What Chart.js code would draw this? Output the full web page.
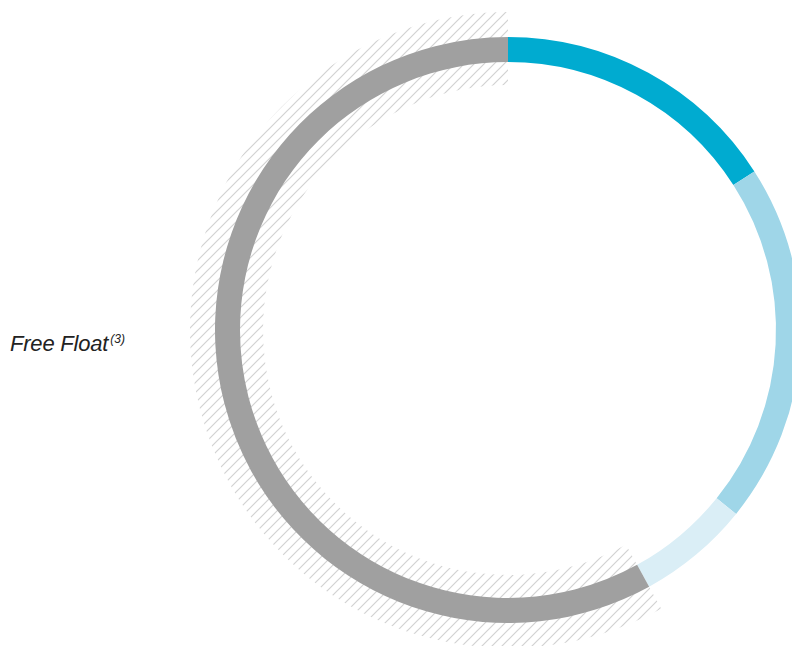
<!DOCTYPE html>
<html>
<head>
<meta charset="utf-8">
<script src="https://cdn.jsdelivr.net/npm/chart.js@4.4.1/dist/chart.umd.min.js"></script>
<style>
  html, body { margin: 0; padding: 0; width: 792px; height: 646px; overflow: hidden; background: #fff; }
  .ring { position: absolute; left: 178px; top: 0; width: 660px; height: 660px; }
  #label {
    position: absolute; left: 10px; top: 327px;
    font-family: 'Liberation Sans', Arial, sans-serif; font-style: italic;
    font-size: 22px; line-height: 25px; color: #222; white-space: nowrap;
    letter-spacing: -0.2px;
  }
  #label span { font-size: 12px; vertical-align: 8px; margin-left: 2px; letter-spacing: 0; }
</style>
</head>
<body>
<div class="ring"><canvas id="hatchChart"></canvas></div>
<div class="ring"><canvas id="mainChart"></canvas></div>
<div id="label">Free Float<span>(3)</span></div>
<script>
const labels = ['Segment 1', 'Segment 2', 'Segment 3', 'Free Float'];
const shares = [15.9, 19.9, 6.2, 58.0];
const colours = ['#00abd0', '#9fd6e8', '#daeef6', '#a0a0a0'];

function makeHatch() {
  const c = document.createElement('canvas');
  c.width = 10; c.height = 10;
  const g = c.getContext('2d');
  g.strokeStyle = '#d2d2d2';
  g.lineWidth = 1.2;
  g.beginPath();
  g.moveTo(-1, 11); g.lineTo(11, -1);
  g.moveTo(-1, 1); g.lineTo(1, -1);
  g.moveTo(9, 11); g.lineTo(11, 9);
  g.stroke();
  return g.createPattern(c, 'repeat');
}

document.addEventListener('DOMContentLoaded', function () {
  const hatch = makeHatch();

  // hatched band behind the free float arc (outer 318px, inner 245px)
  new Chart(document.getElementById('hatchChart').getContext('2d'), {
    type: 'doughnut',
    data: {
      labels: labels,
      datasets: [{
        data: shares,
        backgroundColor: ['rgba(0,0,0,0)', 'rgba(0,0,0,0)', 'rgba(0,0,0,0)', hatch],
        borderWidth: 0
      }]
    },
    options: {
      responsive: true,
      maintainAspectRatio: false,
      radius: 318,
      cutout: (245 / 318 * 100) + '%',
      animation: false,
      plugins: { legend: { display: false }, tooltip: { enabled: false } }
    }
  });

  // main ring (outer 293px, inner 268px)
  new Chart(document.getElementById('mainChart').getContext('2d'), {
    type: 'doughnut',
    data: {
      labels: labels,
      datasets: [{
        data: shares,
        backgroundColor: colours,
        borderWidth: 0
      }]
    },
    options: {
      responsive: true,
      maintainAspectRatio: false,
      radius: 293,
      cutout: (268 / 293 * 100) + '%',
      animation: false,
      plugins: { legend: { display: false } }
    }
  });
});
</script>
</body>
</html>
